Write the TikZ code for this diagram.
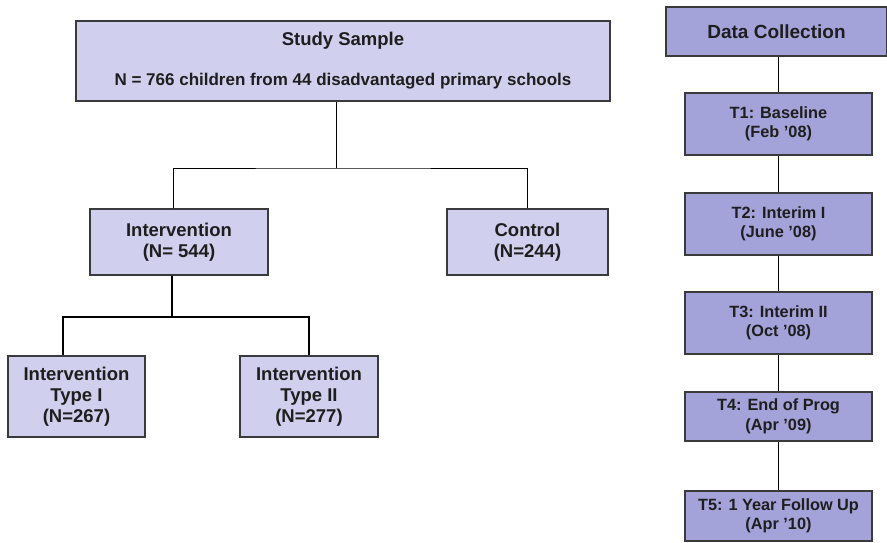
\documentclass[tikz,border=0pt]{standalone}
\usepackage{fontspec}
\setmainfont{Liberation Sans}
\definecolor{paleblue}{HTML}{D0D0EE}
\definecolor{midblue}{HTML}{A3A3DA}
\definecolor{edge}{HTML}{3A3A3A}
\definecolor{ink}{HTML}{1E1E1E}
\begin{document}
\begin{tikzpicture}[x=1pt,y=-1pt,
  box/.style={draw=edge, line width=1.2pt, align=center, inner sep=0pt,
    text=ink, font=\fontsize{18.5}{21}\selectfont\bfseries},
  leftbox/.style={box, fill=paleblue},
  rightbox/.style={box, fill=midblue},
  stagebox/.style={rightbox, minimum width=187pt,
    font=\fontsize{16.3}{19.5}\selectfont\bfseries},
  link/.style={draw=black, line width=1.2pt},
  thinlink/.style={draw=black, line width=0.8pt}]
\useasboundingbox (0,0) rectangle (887,542);

% sample hierarchy
\node[leftbox, minimum width=534pt, minimum height=80pt] (study) at (343,61)
  {Study Sample\\[19pt]{\fontsize{17}{21}\selectfont N = 766 children from 44 disadvantaged primary schools}};
\node[leftbox, minimum width=178pt, minimum height=66pt] (int) at (179,242)
  {Intervention\\(N= 544)};
\node[leftbox, minimum width=161pt, minimum height=66pt] (ctrl) at (527.5,242)
  {Control\\(N=244)};
\node[leftbox, minimum width=137pt, minimum height=81pt] (typeI) at (76.5,396.5)
  {Intervention\\Type I\\(N=267)};
\node[leftbox, minimum width=138pt, minimum height=81pt] (typeII) at (309,396.5)
  {Intervention\\Type II\\(N=277)};

\coordinate (j1) at (336,168);
\coordinate (s1) at (173,168);
\coordinate (j2) at (172,317);
\coordinate (s2) at (63,317);

\draw[thinlink] (study.south -| j1) -- (j1);
\draw[thinlink] (int.north -| s1) |- (j1) -| (ctrl.north);
\draw[link] (int.south -| j2) -- (j2);
\draw[link] (typeI.north -| s2) |- (j2) -| (typeII.north);

% data collection timeline
\node[rightbox, minimum width=221pt, minimum height=49pt,
  font=\fontsize{19}{22}\selectfont\bfseries] (dc) at (776.5,31.5)
  {Data Collection};
\node[stagebox, minimum height=62pt] (t1) at (778.5,124)
  {T1: Baseline\\(Feb ’08)};
\node[stagebox, minimum height=62pt] (t2) at (778.5,224)
  {T2: Interim I\\(June ’08)};
\node[stagebox, minimum height=62pt] (t3) at (778.5,323)
  {T3: Interim II\\(Oct ’08)};
\node[stagebox, minimum height=49pt] (t4) at (778.5,416.5)
  {T4: End of Prog\\(Apr ’09)};
\node[stagebox, minimum height=50pt] (t5) at (778.5,516)
  {T5: 1 Year Follow Up\\(Apr ’10)};

\draw[link] (dc.south -| t1.north) -- (t1.north);
\draw[thinlink] (t1) -- (t2);
\draw[link] (t2) -- (t3);
\draw[thinlink] (t3) -- (t4);
\draw[link] (t4) -- (t5);
\end{tikzpicture}
\end{document}
